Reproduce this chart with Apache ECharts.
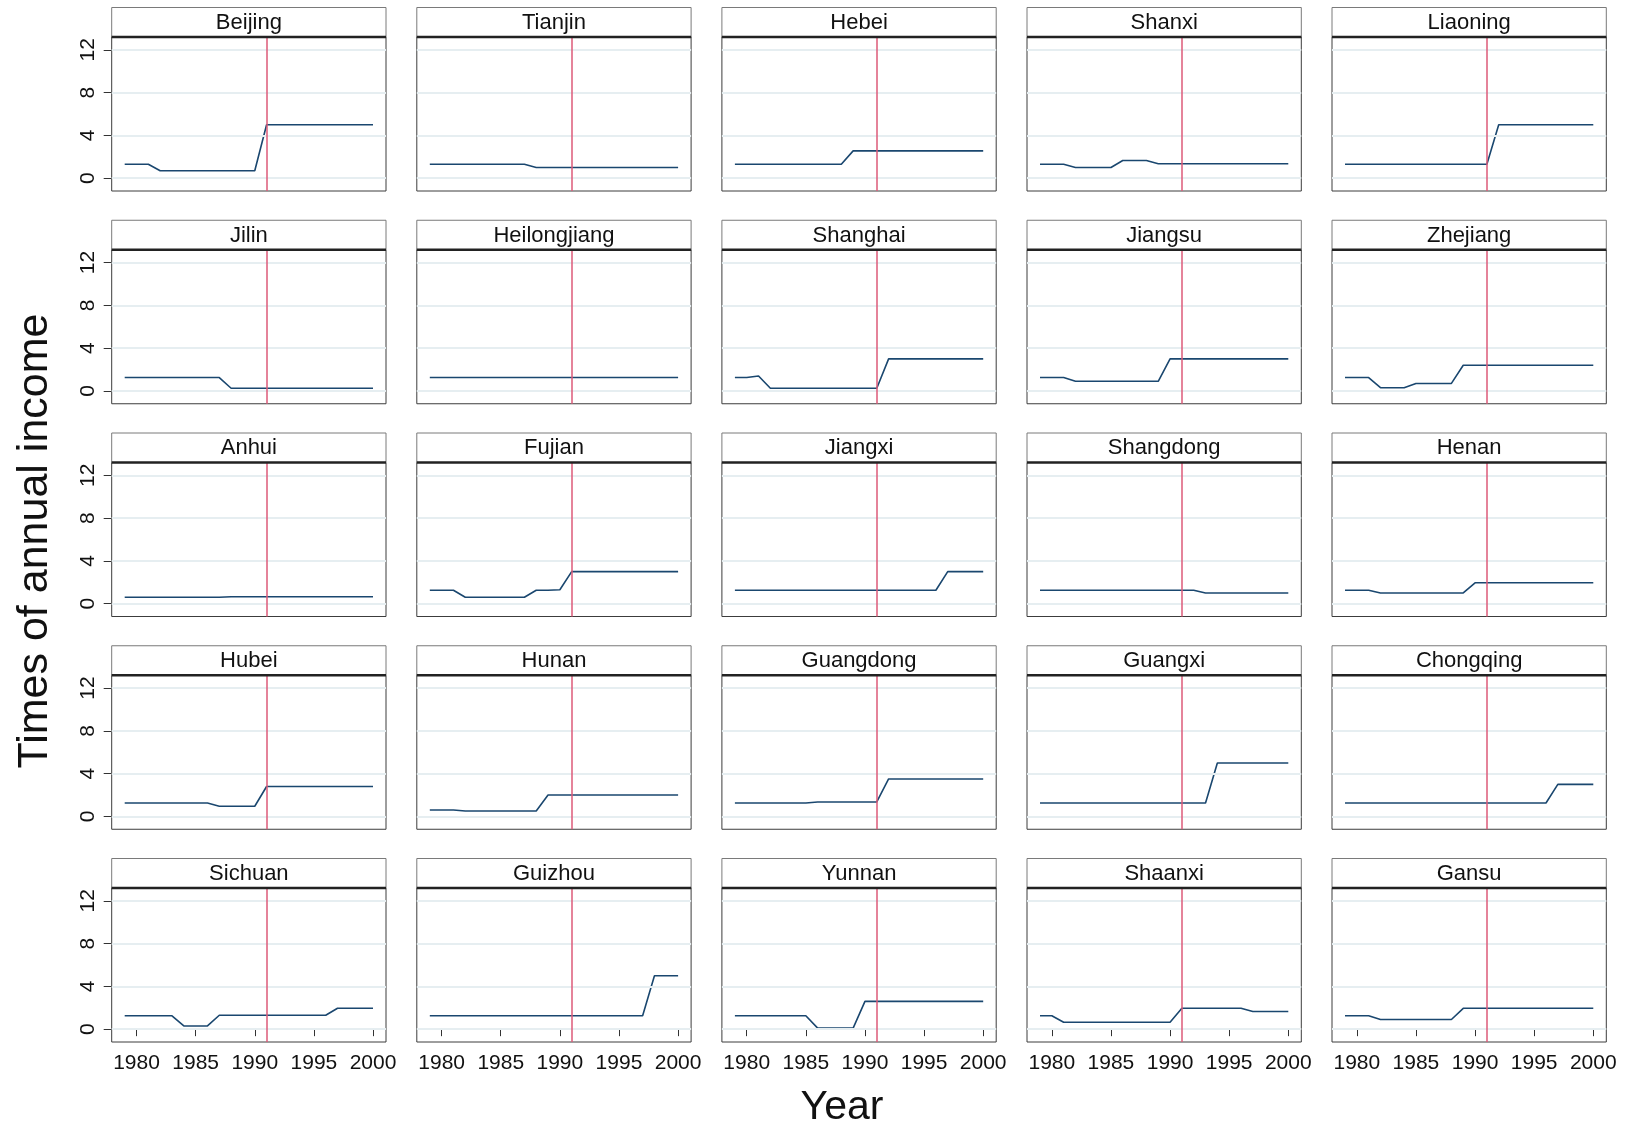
<!DOCTYPE html>
<html><head><meta charset="utf-8">
<script src="https://cdn.jsdelivr.net/npm/echarts@6/dist/echarts.min.js"></script>
<style>html,body{margin:0;padding:0;background:#fff}#c{width:1626px;height:1131px}</style>
</head><body><div id="c"></div>
<script>
const years = [1979,1980,1981,1982,1983,1984,1985,1986,1987,1988,1989,1990,1991,1992,1993,1994,1995,1996,1997,1998,1999,2000];
const provinces = ['Beijing','Tianjin','Hebei','Shanxi','Liaoning','Jilin','Heilongjiang','Shanghai','Jiangsu','Zhejiang','Anhui','Fujian','Jiangxi','Shangdong','Henan','Hubei','Hunan','Guangdong','Guangxi','Chongqing','Sichuan','Guizhou','Yunnan','Shaanxi','Gansu'];
const xTickValues = [1980,1985,1990,1995,2000];
const yTickValues = [0,4,8,12];
const reformYear = 1991;

const beijing      = [1.3,1.3,1.3,0.7,0.7,0.7,0.7,0.7,0.7,0.7,0.7,0.7,5,5,5,5,5,5,5,5,5,5];
const tianjin      = [1.3,1.3,1.3,1.3,1.3,1.3,1.3,1.3,1.3,1.0,1.0,1.0,1.0,1.0,1.0,1.0,1.0,1.0,1.0,1.0,1.0,1.0];
const hebei        = [1.3,1.3,1.3,1.3,1.3,1.3,1.3,1.3,1.3,1.3,2.55,2.55,2.55,2.55,2.55,2.55,2.55,2.55,2.55,2.55,2.55,2.55];
const shanxi       = [1.3,1.3,1.3,1.0,1.0,1.0,1.0,1.65,1.65,1.65,1.35,1.35,1.35,1.35,1.35,1.35,1.35,1.35,1.35,1.35,1.35,1.35];
const liaoning     = [1.3,1.3,1.3,1.3,1.3,1.3,1.3,1.3,1.3,1.3,1.3,1.3,1.3,5,5,5,5,5,5,5,5,5];
const jilin        = [1.25,1.25,1.25,1.25,1.25,1.25,1.25,1.25,1.25,0.25,0.25,0.25,0.25,0.25,0.25,0.25,0.25,0.25,0.25,0.25,0.25,0.25];
const heilongjiang = [1.25,1.25,1.25,1.25,1.25,1.25,1.25,1.25,1.25,1.25,1.25,1.25,1.25,1.25,1.25,1.25,1.25,1.25,1.25,1.25,1.25,1.25];
const shanghai     = [1.25,1.25,1.4,0.25,0.25,0.25,0.25,0.25,0.25,0.25,0.25,0.25,0.25,3,3,3,3,3,3,3,3,3];
const jiangsu      = [1.25,1.25,1.25,0.9,0.9,0.9,0.9,0.9,0.9,0.9,0.9,3,3,3,3,3,3,3,3,3,3,3];
const zhejiang     = [1.25,1.25,1.25,0.3,0.3,0.3,0.7,0.7,0.7,0.7,2.4,2.4,2.4,2.4,2.4,2.4,2.4,2.4,2.4,2.4,2.4,2.4];
const anhui        = [0.6,0.6,0.6,0.6,0.6,0.6,0.6,0.6,0.6,0.65,0.65,0.65,0.65,0.65,0.65,0.65,0.65,0.65,0.65,0.65,0.65,0.65];
const fujian       = [1.25,1.25,1.25,0.6,0.6,0.6,0.6,0.6,0.6,1.25,1.25,1.3,3,3,3,3,3,3,3,3,3,3];
const jiangxi      = [1.25,1.25,1.25,1.25,1.25,1.25,1.25,1.25,1.25,1.25,1.25,1.25,1.25,1.25,1.25,1.25,1.25,1.25,3,3,3,3];
const shangdong    = [1.25,1.25,1.25,1.25,1.25,1.25,1.25,1.25,1.25,1.25,1.25,1.25,1.25,1.25,1.0,1.0,1.0,1.0,1.0,1.0,1.0,1.0];
const henan        = [1.25,1.25,1.25,1.0,1.0,1.0,1.0,1.0,1.0,1.0,1.0,1.95,1.95,1.95,1.95,1.95,1.95,1.95,1.95,1.95,1.95,1.95];
const hubei        = [1.25,1.25,1.25,1.25,1.25,1.25,1.25,1.25,0.95,0.95,0.95,0.95,2.8,2.8,2.8,2.8,2.8,2.8,2.8,2.8,2.8,2.8];
const hunan        = [0.6,0.6,0.6,0.5,0.5,0.5,0.5,0.5,0.5,0.5,2.0,2.0,2.0,2.0,2.0,2.0,2.0,2.0,2.0,2.0,2.0,2.0];
const guangdong    = [1.25,1.25,1.25,1.25,1.25,1.25,1.25,1.35,1.35,1.35,1.35,1.35,1.35,3.5,3.5,3.5,3.5,3.5,3.5,3.5,3.5,3.5];
const guangxi      = [1.25,1.25,1.25,1.25,1.25,1.25,1.25,1.25,1.25,1.25,1.25,1.25,1.25,1.25,1.25,5,5,5,5,5,5,5];
const chongqing    = [1.25,1.25,1.25,1.25,1.25,1.25,1.25,1.25,1.25,1.25,1.25,1.25,1.25,1.25,1.25,1.25,1.25,1.25,3,3,3,3];
const sichuan      = [1.25,1.25,1.25,1.25,1.25,0.3,0.3,0.3,1.3,1.3,1.3,1.3,1.3,1.3,1.3,1.3,1.3,1.3,1.95,1.95,1.95,1.95];
const guizhou      = [1.25,1.25,1.25,1.25,1.25,1.25,1.25,1.25,1.25,1.25,1.25,1.25,1.25,1.25,1.25,1.25,1.25,1.25,1.25,5,5,5];
const yunnan       = [1.25,1.25,1.25,1.25,1.25,1.25,1.25,0.1,0.1,0.1,0.1,2.6,2.6,2.6,2.6,2.6,2.6,2.6,2.6,2.6,2.6,2.6];
const shaanxi      = [1.25,1.25,0.65,0.65,0.65,0.65,0.65,0.65,0.65,0.65,0.65,0.65,1.95,1.95,1.95,1.95,1.95,1.95,1.65,1.65,1.65,1.65];
const gansu        = [1.25,1.25,1.25,0.9,0.9,0.9,0.9,0.9,0.9,0.9,1.95,1.95,1.95,1.95,1.95,1.95,1.95,1.95,1.95,1.95,1.95,1.95];

const seriesValues = [beijing,tianjin,hebei,shanxi,liaoning,jilin,heilongjiang,shanghai,jiangsu,zhejiang,anhui,fujian,jiangxi,shangdong,henan,hubei,hunan,guangdong,guangxi,chongqing,sichuan,guizhou,yunnan,shaanxi,gansu];

const FONT = '"Liberation Sans", Arial, sans-serif';
const colLeft = [111.7, 416.8, 721.9, 1027, 1332];
const plotW = 274.3;
const plotH = 154;
const stripH = 29.5;
const rowTop = r => 37 + r * 212.75;

const grids = [], xAxes = [], yAxes = [], series = [], graphics = [];
provinces.forEach((name, i) => {
  const r = Math.floor(i / 5), c = i % 5;
  const left = colLeft[c], top = rowTop(r);
  grids.push({left: left, top: top, width: plotW, height: plotH, show: true,
    borderColor: '#3c3c3c', borderWidth: 1, backgroundColor: 'transparent'});
  xAxes.push({type: 'value', gridIndex: i, min: 1977.9, max: 2001.1,
    axisLine: {show: false}, splitLine: {show: false},
    axisTick: {show: r === 4, customValues: xTickValues, length: 7, lineStyle: {color: '#333', width: 1}},
    axisLabel: {show: r === 4, customValues: xTickValues, formatter: v => String(v), fontSize: 21, color: '#111', margin: 11, fontFamily: FONT}});
  yAxes.push({type: 'value', gridIndex: i, min: -1.2, max: 13.2,
    axisLine: {show: false}, splitLine: {show: false},
    axisTick: {show: c === 0, customValues: yTickValues, length: 8, lineStyle: {color: '#333', width: 1}},
    axisLabel: {show: c === 0, customValues: yTickValues, formatter: v => String(v), rotate: 90, fontSize: 21, color: '#111', margin: 13, fontFamily: FONT}});
  series.push({type: 'line', xAxisIndex: i, yAxisIndex: i, data: [], silent: true, z: 1,
    markLine: {silent: true, symbol: 'none', animation: false, label: {show: false},
      lineStyle: {color: '#e6eef1', width: 2, type: 'solid'},
      data: yTickValues.map(v => ({yAxis: v}))}});
  series.push({type: 'line', name: name, xAxisIndex: i, yAxisIndex: i, z: 3,
    data: years.map((y, k) => [y, seriesValues[i][k]]),
    showSymbol: false, symbol: 'none', animation: false,
    lineStyle: {color: '#1a476f', width: 1.6},
    markLine: {silent: true, symbol: 'none', animation: false, label: {show: false},
      lineStyle: {color: '#dc5a78', width: 1.5, type: 'solid'},
      data: [{xAxis: reformYear}]}});
  graphics.push({type: 'rect', z: 10, shape: {x: left, y: top - stripH, width: plotW, height: stripH},
    style: {fill: '#fff', stroke: '#7a7a7a', lineWidth: 1}});
  graphics.push({type: 'line', z: 11, shape: {x1: left, y1: top, x2: left + plotW, y2: top},
    style: {stroke: '#222', lineWidth: 2.5}});
  graphics.push({type: 'text', z: 12, x: left + plotW / 2, y: top - stripH / 2 + 0.5,
    style: {text: name, font: '22px ' + FONT, fill: '#111', textAlign: 'center', textVerticalAlign: 'middle'}});
});
graphics.push({type: 'text', x: 35, y: 541, rotation: Math.PI / 2,
  style: {text: 'Times of annual income', font: '43px ' + FONT, fill: '#111', textAlign: 'center', textVerticalAlign: 'middle'}});
graphics.push({type: 'text', x: 842, y: 1108,
  style: {text: 'Year', font: '41px ' + FONT, fill: '#111', textAlign: 'center', textVerticalAlign: 'middle'}});

const chart = echarts.init(document.getElementById('c'));
chart.setOption({
  animation: false,
  backgroundColor: '#fff',
  grid: grids, xAxis: xAxes, yAxis: yAxes, series: series, graphic: graphics
});
</script></body></html>
